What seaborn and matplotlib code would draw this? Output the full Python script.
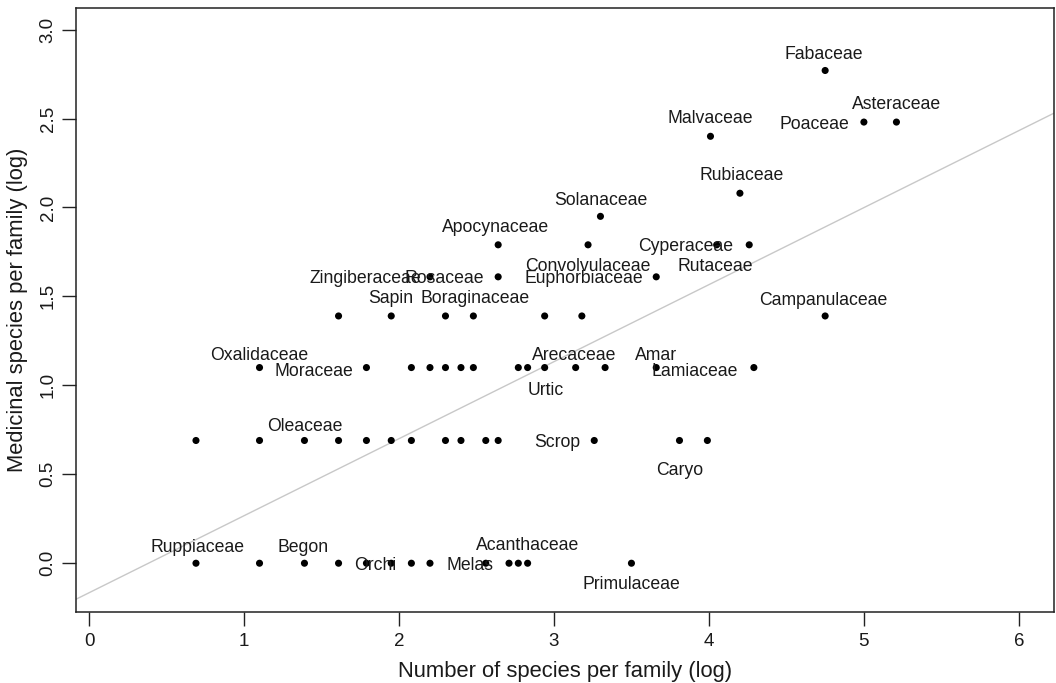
import numpy as np
import pandas as pd
import seaborn as sns
import matplotlib
matplotlib.use("Agg")
import matplotlib.pyplot as plt

sns.set_theme(style="ticks")
plt.rcParams['font.family'] = ['Liberation Sans', 'DejaVu Sans']

# log(number of species per family) for every family, grouped by row of log(medicinal species)
spp_y000 = [0.69, 1.10, 1.39, 1.61, 1.79, 1.95, 2.08, 2.20, 2.56, 2.71, 2.77, 2.83, 3.50]
spp_y069 = [0.69, 1.10, 1.39, 1.61, 1.79, 1.95, 2.08, 2.30, 2.40, 2.56, 2.64, 3.26, 3.81, 3.99]
spp_y110 = [1.10, 1.79, 2.08, 2.20, 2.30, 2.40, 2.48, 2.77, 2.83, 2.94, 3.14, 3.33, 3.66, 4.29]
spp_y139 = [1.61, 1.95, 2.30, 2.48, 2.94, 3.18, 4.75]
spp_y161 = [2.20, 2.64, 3.66]
spp_y179 = [2.64, 3.22, 4.05, 4.26]
spp_y195 = [3.30]
spp_y208 = [4.20]
spp_y240 = [4.01]
spp_y248 = [5.00, 5.21]
spp_y277 = [4.75]
med_levels = [0.00, 0.69, 1.10, 1.39, 1.61, 1.79, 1.95, 2.08, 2.40, 2.48, 2.77]

# family labels and where their text sits (data coords)
lab_names = ["Fabaceae", "Asteraceae", "Poaceae", "Malvaceae", "Rubiaceae", "Solanaceae",
             "Apocynaceae", "Cyperaceae", "Rutaceae", "Convolvulaceae", "Euphorbiaceae",
             "Zingiberaceae", "Rosaceae", "Sapin", "Boraginaceae", "Campanulaceae",
             "Oxalidaceae", "Moraceae", "Arecaceae", "Amar", "Lamiaceae", "Urtic",
             "Oleaceae", "Scrop", "Caryo", "Ruppiaceae", "Begon", "Orchi", "Melas",
             "Acanthaceae", "Primulaceae"]
lab_x = [4.74, 5.21, 4.68, 4.01, 4.21, 3.30, 2.62, 3.85, 4.04, 3.22, 3.19,
         1.78, 2.29, 1.95, 2.49, 4.74, 1.10, 1.45, 3.13, 3.66, 3.91, 2.95,
         1.39, 3.02, 3.81, 0.70, 1.38, 1.85, 2.46, 2.83, 3.50]
lab_y = [2.87, 2.59, 2.48, 2.51, 2.19, 2.05, 1.90, 1.79, 1.68, 1.68, 1.61,
         1.61, 1.61, 1.50, 1.50, 1.49, 1.18, 1.09, 1.18, 1.18, 1.09, 0.985,
         0.78, 0.69, 0.53, 0.10, 0.10, 0.0, 0.0, 0.11, -0.11]

# fitted line
fit_intercept = -0.166
fit_slope = 0.433

rows = [spp_y000, spp_y069, spp_y110, spp_y139, spp_y161, spp_y179,
        spp_y195, spp_y208, spp_y240, spp_y248, spp_y277]
df = pd.DataFrame({
    "spp": np.concatenate(rows),
    "med": np.concatenate([[lv] * len(r) for lv, r in zip(med_levels, rows)]),
})

fig = plt.figure(figsize=(10.56, 6.83), dpi=100)
ax = fig.add_axes([0.072, 0.104, 0.926, 0.885])

ax.axline((0, fit_intercept), slope=fit_slope, color="#c8c8c8", lw=1.0, zorder=1)
sns.scatterplot(data=df, x="spp", y="med", ax=ax, color="black", s=26,
                edgecolor="none", zorder=3)

for name, x, y in zip(lab_names, lab_x, lab_y):
    ax.text(x, y, name, ha="center", va="center_baseline", fontsize=12.7,
            color="#1a1a1a", zorder=4)

ax.set_xlim(-0.084, 6.226)
ax.set_ylim(-0.274, 3.124)
ax.set_xticks([0, 1, 2, 3, 4, 5, 6])
ax.set_yticks([0.0, 0.5, 1.0, 1.5, 2.0, 2.5, 3.0])
ax.set_yticklabels(["0.0", "0.5", "1.0", "1.5", "2.0", "2.5", "3.0"],
                   rotation=90, va="center")
ax.tick_params(axis="both", length=10, width=1.0, color="#222222",
               labelsize=13.5, labelcolor="#1a1a1a", pad=4)
ax.tick_params(axis="x", pad=5)
for sp in ax.spines.values():
    sp.set_linewidth(1.1)
    sp.set_color("#222222")

ax.set_xlabel("Number of species per family (log)", fontsize=15.8,
              color="#1a1a1a", labelpad=8)
ax.set_ylabel("Medicinal species per family (log)", fontsize=15.8,
              color="#1a1a1a", labelpad=8)

fig.savefig("out.png", dpi=100)
